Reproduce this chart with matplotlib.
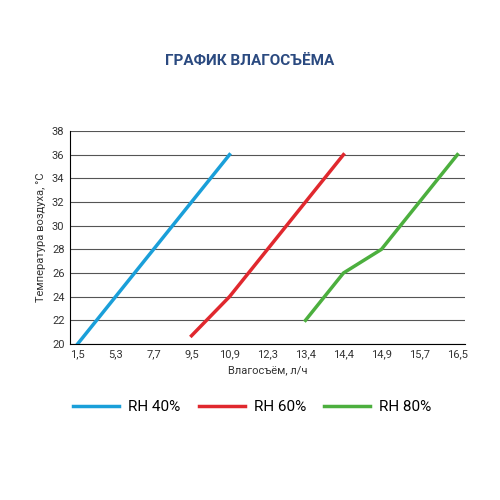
import matplotlib
matplotlib.use("Agg")
import matplotlib.pyplot as plt

x_labels = ["1,5","5,3","7,7","9,5","10,9","12,3","13,4","14,4","14,9","15,7","16,5"]
y_ticks = [20,22,24,26,28,30,32,34,36,38]
rh40_x = ["1,5","10,9"]; rh40_y = [20,36]
rh60_x = ["9,5","10,9","14,4"]; rh60_y = [20.7,24,36]
rh80_x = ["13,4","14,4","14,9","16,5"]; rh80_y = [22,26,28,36]

plt.rcParams['font.family'] = ['Roboto','DejaVu Sans']
fig = plt.figure(figsize=(5,5), dpi=100)
ax = fig.add_axes([0.14, 0.312, 0.79, 0.426])
idx = lambda xs: [x_labels.index(v) for v in xs]
ax.plot(idx(rh40_x), rh40_y, color="#1a9fd9", lw=2.5, label="RH 40%")
ax.plot(idx(rh60_x), rh60_y, color="#e0282e", lw=2.5, label="RH 60%")
ax.plot(idx(rh80_x), rh80_y, color="#4caf3e", lw=2.5, label="RH 80%")
ax.set_xlim(-0.2, 10.2); ax.set_ylim(20, 38)
ax.set_xticks(range(len(x_labels))); ax.set_xticklabels(x_labels)
ax.set_yticks(y_ticks)
ax.grid(axis='y', color="#555555", lw=0.8)
ax.set_axisbelow(True)
for s in ['top','right']: ax.spines[s].set_visible(False)
ax.tick_params(labelsize=8, length=0, pad=4, colors="#333333")
ax.set_xlabel("Влагосъём, л/ч", fontsize=8, color="#333333")
ax.set_ylabel("Температура воздуха, °C", fontsize=8, color="#333333")
fig.text(0.5, 0.87, "ГРАФИК ВЛАГОСЪЁМА", ha='center', fontsize=11, fontweight='bold', color="#2b4a80")
fig.legend(loc='center', bbox_to_anchor=(0.505, 0.186), ncol=3, frameon=False, fontsize=11,
           handlelength=3.0, handletextpad=0.6, columnspacing=1.2)
fig.savefig("out.png", dpi=100)
